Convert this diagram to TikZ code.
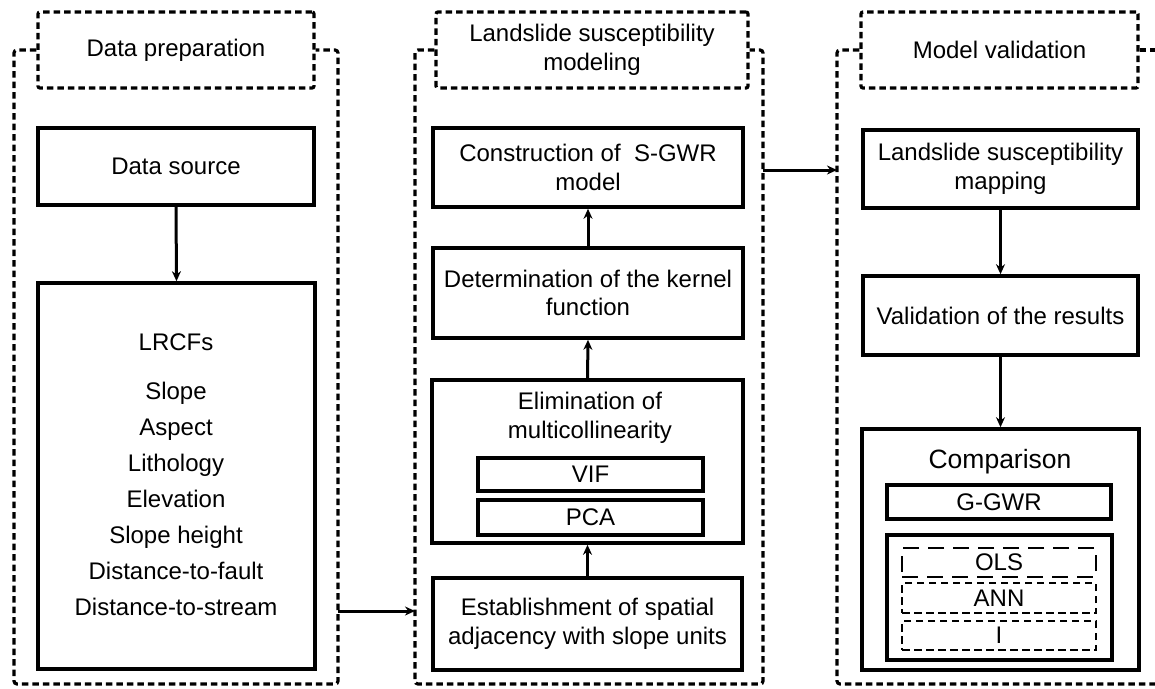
\documentclass[tikz,border=0pt]{standalone}
\usepackage{fontspec}
\setmainfont{Liberation Sans}
\usetikzlibrary{arrows.meta}
\tikzset{
  box/.style={draw, line width=3.6pt, inner sep=0pt, align=center, font=\fontsize{24}{28.5}\selectfont},
  hdr/.style={draw, line width=3.2pt, dash pattern=on 6.5pt off 4pt, rounded corners=2pt, inner sep=0pt, align=center, font=\fontsize{24}{28.5}\selectfont},
  panel/.style={line width=3.2pt, dash pattern=on 6.5pt off 4pt, rounded corners=3pt},
  txt/.style={inner sep=0pt, align=center, font=\fontsize{24}{28.5}\selectfont},
  arr/.style={line width=3pt, -{Stealth[length=10pt,width=9pt]}},
  longdash/.style={draw, line width=2.6pt, dash pattern=on 16pt off 9pt, inner sep=0pt, font=\fontsize{24}{28.5}\selectfont},
  shortdash/.style={draw, line width=2.6pt, dash pattern=on 7.5pt off 4.5pt, inner sep=0pt, font=\fontsize{24}{28.5}\selectfont}
}
\begin{document}
\begin{tikzpicture}[x=1pt,y=-1pt]
\useasboundingbox (0,0) rectangle (1155,688);
\begin{scope}
\clip (0,0) rectangle (1155,688);
% headers
\node[hdr, minimum width=276pt, minimum height=76pt] (h1) at (176,50) {Data preparation};
\node[hdr, minimum width=312pt, minimum height=76pt] (h2) at (592,50) {Landslide susceptibility\\modeling};
\node[hdr, minimum width=277pt, minimum height=76pt] (h3) at (999.5,50) {Model validation};
% panels
\draw[panel] (h1.west) -- (14,50) -- (14,684) -- (338,684) -- (338,50) -- (h1.east);
\draw[panel] (h2.west) -- (415,50) -- (415,684) -- (763,684) -- (763,50) -- (h2.east);
\draw[panel] (h3.west) -- (837,50) -- (837,684) -- (1170,684);
\draw[panel] (h3.east) -- (1170,50);
\end{scope}
% left column
\node[box, minimum width=276pt, minimum height=77pt] (ds) at (176,166.5) {Data source};
\node[box, minimum width=277pt, minimum height=386pt] (lr) at (176.5,476) {};
\node[txt] (lrt) at (176,342) {LRCFs};
\node[txt, font=\fontsize{24}{36}\selectfont] (lrl) at (176,499) {Slope\\Aspect\\Lithology\\Elevation\\Slope height\\Distance-to-fault\\Distance-to-stream};
% middle column
\node[box, minimum width=310pt, minimum height=79pt] (cons) at (588,167.5) {Construction of\ \ S-GWR\\model};
\node[box, minimum width=310pt, minimum height=90pt] (det) at (588,293) {Determination of the kernel\\function};
\node[box, minimum width=311pt, minimum height=163pt] (elim) at (587.5,461.5) {};
\node[txt] (elimt) at (590,418) {Elimination of\\multicollinearity};
\node[box, minimum width=225pt, minimum height=33pt] (vif) at (590.5,474.5) {VIF};
\node[box, minimum width=225pt, minimum height=35pt] (pca) at (590.5,517.5) {PCA};
\node[box, minimum width=309pt, minimum height=92pt] (est) at (587.5,624) {Establishment of spatial\\adjacency with slope units};
% right column
\node[box, minimum width=275pt, minimum height=78pt] (lsm) at (1000.5,169) {Landslide susceptibility\\mapping};
\node[box, minimum width=275pt, minimum height=79pt] (val) at (1000.5,315.5) {Validation of the results};
\node[box, minimum width=277pt, minimum height=241pt] (cmp) at (1000.5,549.5) {};
\node[txt, font=\fontsize{26.5}{30}\selectfont] (cmpt) at (1000,462) {Comparison};
\node[box, minimum width=224pt, minimum height=34pt] (gg) at (999,502) {G-GWR};
\node[box, minimum width=225pt, minimum height=125pt] (inner) at (999.5,597.5) {};
\node[longdash, minimum width=194pt, minimum height=29pt] (ols) at (999,562.5) {OLS};
\node[shortdash, minimum width=194pt, minimum height=30pt] (ann) at (999,598) {ANN};
\node[shortdash, minimum width=194pt, minimum height=29pt] (ib) at (999,635.5) {I};
% connector end points on panel borders
\coordinate (p1r) at (338,611);
\coordinate (p2l) at (415,611);
\coordinate (p2r) at (763,170);
\coordinate (p3l) at (837,170);
% arrows
\draw[arr] (ds.south) -- (lr.north);
\draw[arr] (est.north) -- (elim.south);
\draw[arr] (elim.north) -- (det.south);
\draw[arr] (det.north) -- (cons.south);
\draw[arr] (lsm.south) -- (val.north);
\draw[arr] (val.south) -- (cmp.north);
\draw[arr] (p1r) -- (p2l);
\draw[arr] (p2r) -- (p3l);
\end{tikzpicture}
\end{document}
